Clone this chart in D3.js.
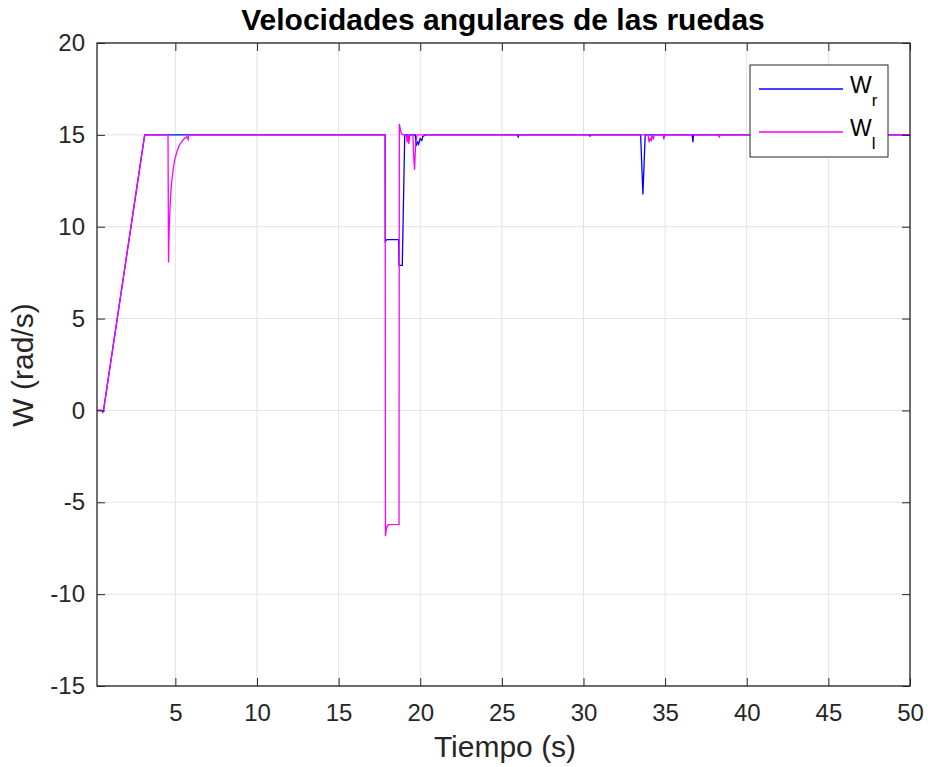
<!DOCTYPE html>
<html><head><meta charset="utf-8">
<script src="https://cdn.jsdelivr.net/npm/d3@7"></script>
<style>body{margin:0;background:#fff;} text{font-family:"Liberation Sans",Arial,sans-serif;}</style>
</head><body><svg id="c" width="928" height="767"></svg>
<script>
const title = "Velocidades angulares de las ruedas";
const xLabel = "Tiempo (s)";
const yLabel = "W (rad/s)";
const xTicks = [5,10,15,20,25,30,35,40,45,50];
const yTicks = [-15,-10,-5,0,5,10,15,20];
const xDomain = [0.2, 50];
const yDomain = [-15, 20];

// Wr (blue)
const wrT = [0.2,0.5,0.55,0.6,3.12,17.85,17.86,17.95,18.68,18.7,18.9,19.05,19.25,19.3,19.35,19.7,19.75,19.85,19.9,20.0,20.1,20.15,20.3,25.98,26.0,26.03,30.38,30.4,30.43,33.5,33.64,33.78,36.66,36.7,36.74,50];
const wrV = [0,0,-0.1,0,15,15,9.2,9.3,9.3,7.9,7.9,15,15,14.7,15,15,14.4,14.6,14.5,14.8,14.7,14.9,15,15,14.85,15,15,14.9,15,15,11.75,15,15,14.6,15,15];

// Wl (magenta)
const wlT = [0.2,0.5,0.55,0.6,3.12,4.55,4.58,4.62,4.68,4.75,4.85,4.95,5.1,5.25,5.4,5.55,5.7,5.78,5.82,17.85,17.87,17.92,17.98,18.05,18.7,18.72,18.78,18.85,18.95,19.15,19.2,19.25,19.3,19.35,19.55,19.6,19.65,19.72,19.8,33.95,34.02,34.08,34.15,34.2,34.28,34.35,34.88,34.92,34.97,38.28,38.32,38.36,50];
const wlV = [0,0,-0.1,0,15,15,8.05,9.8,11.2,12.2,13.0,13.6,14.1,14.45,14.65,14.8,14.9,14.75,15,15,-6.85,-6.45,-6.3,-6.22,-6.2,15.6,15.3,15.05,15,15,14.6,15,14.5,15,15,13.8,13.1,14.5,15,15,14.6,14.8,14.7,15,14.8,15,15,14.75,15,15,14.85,15,15];

const m = {l:97, r:910, t:43, b:686};
const svg = d3.select("#c");
const x = d3.scaleLinear().domain(xDomain).range([m.l, m.r]);
const y = d3.scaleLinear().domain(yDomain).range([m.b, m.t]);
const axCol = "#262626";

// grid
const g = svg.append("g");
g.selectAll(".gx").data(xTicks).join("line")
  .attr("x1",d=>x(d)).attr("x2",d=>x(d)).attr("y1",m.t).attr("y2",m.b)
  .attr("stroke","#e3e3e3").attr("stroke-width",1);
g.selectAll(".gy").data(yTicks).join("line")
  .attr("y1",d=>y(d)).attr("y2",d=>y(d)).attr("x1",m.l).attr("x2",m.r)
  .attr("stroke","#e3e3e3").attr("stroke-width",1);

// lines
svg.append("clipPath").attr("id","cp").append("rect")
  .attr("x",m.l).attr("y",m.t).attr("width",m.r-m.l).attr("height",m.b-m.t);
const line = d3.line().x(d=>x(d[0])).y(d=>y(d[1]));
const wr = wrT.map((t,i)=>[t,wrV[i]]);
const wl = wlT.map((t,i)=>[t,wlV[i]]);
svg.append("path").datum(wr).attr("d",line).attr("fill","none")
  .attr("stroke","#0000ff").attr("stroke-width",1.3).attr("clip-path","url(#cp)");
svg.append("path").datum(wl).attr("d",line).attr("fill","none")
  .attr("stroke","#ff00ff").attr("stroke-width",1.3).attr("clip-path","url(#cp)");

// axes
const tickLen = 8;
const fmt = d => String(d);
const ax = (sel, axis) => {
  sel.call(axis);
  sel.select(".domain").remove();
  sel.selectAll(".tick line").attr("stroke",axCol);
  sel.selectAll(".tick text").attr("fill",axCol).style("font-size","24px").style("font-family","'Liberation Sans',Arial,sans-serif");
};
svg.append("g").attr("transform",`translate(0,${m.b})`)
  .call(s=>ax(s,d3.axisBottom(x).tickValues(xTicks).tickFormat(fmt).tickSize(-tickLen).tickPadding(18)));
svg.append("g").attr("transform",`translate(0,${m.t})`)
  .call(s=>{ax(s,d3.axisTop(x).tickValues(xTicks).tickSize(-tickLen)); s.selectAll("text").remove();});
svg.append("g").attr("transform",`translate(${m.l},0)`)
  .call(s=>ax(s,d3.axisLeft(y).tickValues(yTicks).tickFormat(fmt).tickSize(-tickLen).tickPadding(12)));
svg.append("g").attr("transform",`translate(${m.r},0)`)
  .call(s=>{ax(s,d3.axisRight(y).tickValues(yTicks).tickSize(-tickLen)); s.selectAll("text").remove();});
svg.append("rect").attr("x",m.l).attr("y",m.t).attr("width",m.r-m.l).attr("height",m.b-m.t)
  .attr("fill","none").attr("stroke",axCol).attr("stroke-width",1.3);

// labels
svg.append("text").attr("x",503).attr("y",30).attr("text-anchor","middle")
  .style("font-size","30px").style("font-weight","bold").attr("fill","#000").text(title);
svg.append("text").attr("x",505).attr("y",757).attr("text-anchor","middle")
  .style("font-size","30px").attr("fill",axCol).text(xLabel);
svg.append("text").attr("transform",`translate(33,365) rotate(-90)`).attr("text-anchor","middle")
  .style("font-size","30px").attr("fill",axCol).text(yLabel);

// legend
const lg = svg.append("g");
lg.append("rect").attr("x",750).attr("y",65).attr("width",138).attr("height",92)
  .attr("fill","#fff").attr("stroke",axCol).attr("stroke-width",1);
const items = [{n:"r",c:"#0000ff",y:89},{n:"l",c:"#ff00ff",y:132}];
items.forEach(it=>{
  lg.append("line").attr("x1",759).attr("x2",843).attr("y1",it.y).attr("y2",it.y)
    .attr("stroke",it.c).attr("stroke-width",1.3);
  const t = lg.append("text").attr("x",850).attr("y",it.y+4).style("font-size","23px").attr("fill","#000");
  t.append("tspan").text("W");
  t.append("tspan").attr("dy",13).style("font-size","17px").text(it.n);
});
</script></body></html>
